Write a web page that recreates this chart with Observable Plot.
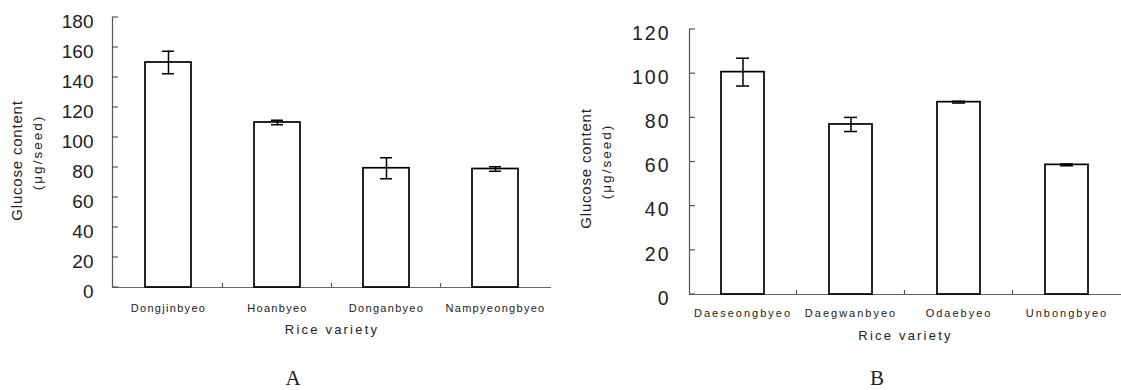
<!DOCTYPE html>
<html>
<head>
<meta charset="utf-8">
<script src="https://cdn.jsdelivr.net/npm/d3@7"></script>
<script src="https://cdn.jsdelivr.net/npm/@observablehq/plot@0.6"></script>
<style>
  html, body { margin: 0; padding: 0; background: #fff; }
  #wrap { position: relative; width: 1121px; height: 390px; overflow: hidden; font-family: "Liberation Sans", Arial, sans-serif; }
  .panel { position: absolute; top: 0; }
  #panelA { left: 0; }
  #panelB { left: 560px; }
  .cap { position: absolute; top: 378px; transform: translate(-50%, -50%); font-family: "Liberation Serif", "DejaVu Serif", serif; font-size: 21px; line-height: 1; color: #222; }
</style>
</head>
<body>
<div id="wrap">
  <div class="panel" id="panelA"></div>
  <div class="panel" id="panelB"></div>
  <div class="cap" style="left:293px">A</div>
  <div class="cap" style="left:877px">B</div>
</div>
<script>
// Panel A data
const categoriesA = ["Dongjinbyeo", "Hoanbyeo", "Donganbyeo", "Nampyeongbyeo"];
const valuesA = [150, 110, 79.5, 79];
const errorsA = [7.5, 1.5, 7, 1.5];
const yTicksA = [0, 20, 40, 60, 80, 100, 120, 140, 160, 180];

// Panel B data
const categoriesB = ["Daeseongbyeo", "Daegwanbyeo", "Odaebyeo", "Unbongbyeo"];
const valuesB = [100.7, 77, 87.1, 58.7];
const errorsB = [6.3, 3.2, 0.4, 0.4];
const yTicksB = [0, 20, 40, 60, 80, 100, 120];

const xTitle = "Rice variety";
const yTitle = "Glucose content";
const yUnit = "(μg/seed)";

// small upward ticks on the baseline, between categories
function bandTicks(cats) {
  return (index, scales) => {
    const x = scales.x, y = scales.y;
    const bw = typeof x.bandwidth === "function" ? x.bandwidth() : (x.bandwidth || 0);
    const g = d3.create("svg:g").attr("stroke", "#555").attr("stroke-width", 1.2);
    for (let i = 0; i < cats.length - 1; i++) {
      const xm = (x(cats[i]) + x(cats[i + 1])) / 2 + bw / 2;
      g.append("line").attr("x1", xm).attr("x2", xm).attr("y1", y(0)).attr("y2", y(0) - 4);
    }
    return g.node();
  };
}

// inward-pointing y ticks (to the right of the axis line)
function inwardYTicks(ticks) {
  return (index, scales, values, dims) => {
    const y = scales.y;
    const g = d3.create("svg:g").attr("stroke", "#555").attr("stroke-width", 1.2);
    for (const t of ticks) {
      g.append("line").attr("x1", dims.marginLeft).attr("x2", dims.marginLeft + 6)
        .attr("y1", y(t)).attr("y2", y(t));
    }
    return g.node();
  };
}

function makePanel(cfg) {
  const data = cfg.cats.map((c, i) => ({cat: c, val: cfg.vals[i], err: cfg.errs[i]}));
  const plot = Plot.plot({
    width: cfg.width,
    height: 362,
    marginLeft: cfg.ml,
    marginRight: cfg.mr,
    marginTop: cfg.mt,
    marginBottom: cfg.mb,
    style: {fontFamily: '"Liberation Sans", Arial, sans-serif', color: "#222", background: "white"},
    x: {domain: cfg.cats, paddingInner: cfg.pi, paddingOuter: cfg.pi / 2, axis: null},
    y: {domain: [0, cfg.ymax], axis: null},
    marks: [
      Plot.frame({anchor: "left", stroke: "#555", strokeWidth: 1.2}),
      Plot.ruleY([0], {stroke: "#666", strokeWidth: 1.2}),
      Plot.axisY({ticks: cfg.yticks, tickSize: 0, tickPadding: cfg.tp, fontSize: cfg.yfs, dy: 4, label: null, tickFormat: d => String(d)}),
      inwardYTicks(cfg.yticks),
      bandTicks(cfg.cats),
      Plot.barY(data, {x: "cat", y: "val", fill: "white", stroke: "black", strokeWidth: 1.7}),
      Plot.ruleX(data, {x: "cat", y1: d => d.val - d.err, y2: d => d.val + d.err, stroke: "black", strokeWidth: 1.5}),
      Plot.tickY(data, {x: "cat", y: d => d.val - d.err, stroke: "black", strokeWidth: 1.5, insetLeft: cfg.capInset, insetRight: cfg.capInset}),
      Plot.tickY(data, {x: "cat", y: d => d.val + d.err, stroke: "black", strokeWidth: 1.5, insetLeft: cfg.capInset, insetRight: cfg.capInset}),
      Plot.text(cfg.cats, {x: d => d, frameAnchor: "bottom", dy: cfg.xlDy, fontSize: 11, fill: "#222", textAnchor: "middle"}),
      Plot.text([xTitle], {frameAnchor: "bottom", dy: cfg.xtDy, fontSize: 13, fill: "#222", textAnchor: "middle"}),
      Plot.text([yTitle], {frameAnchor: "left", dx: cfg.yt1x - cfg.ml, dy: cfg.yt1y, rotate: -90, fontSize: 15, fill: "#222", textAnchor: "middle"}),
      Plot.text([yUnit], {frameAnchor: "left", dx: cfg.yt2x - cfg.ml, dy: cfg.yt2y, rotate: -90, fontSize: 13.5, fill: "#222", textAnchor: "middle"})
    ]
  });
  const svg = d3.select(plot);
  const groups = svg.selectAll('g[aria-label="text"]').nodes();
  const spacing = [cfg.xlLs, 2.2, 0.8, 2];
  groups.forEach((g, i) => { if (spacing[i] != null) g.style.letterSpacing = spacing[i] + "px"; });
  if (cfg.yLs) svg.selectAll('g[aria-label="y-axis tick label"]').style("letter-spacing", cfg.yLs + "px");
  return plot;
}

const frameMidA = (17 + 287) / 2;
document.getElementById("panelA").append(makePanel({
  cats: categoriesA, vals: valuesA, errs: errorsA, yticks: yTicksA, ymax: 180,
  width: 560, ml: 112, mr: 9, mt: 17, mb: 75, pi: 0.58, tp: 19, yfs: 19, capInset: 17,
  xlDy: 24, xtDy: 46, xlLs: 1.3, yLs: 0,
  yt1x: 17, yt1y: 160 - frameMidA, yt2x: 37, yt2y: 152 - frameMidA
}));

const frameMidB = (29 + 294) / 2;
document.getElementById("panelB").append(makePanel({
  cats: categoriesB, vals: valuesB, errs: errorsB, yticks: yTicksB, ymax: 120,
  width: 561, ml: 129, mr: 0, mt: 29, mb: 68, pi: 0.6, tp: 19, yfs: 19.5, capInset: 15,
  xlDy: 22, xtDy: 45, xlLs: 2, yLs: 2,
  yt1x: 586 - 560, yt1y: 168 - frameMidB, yt2x: 606 - 560, yt2y: 161 - frameMidB
}));
</script>
</body>
</html>
